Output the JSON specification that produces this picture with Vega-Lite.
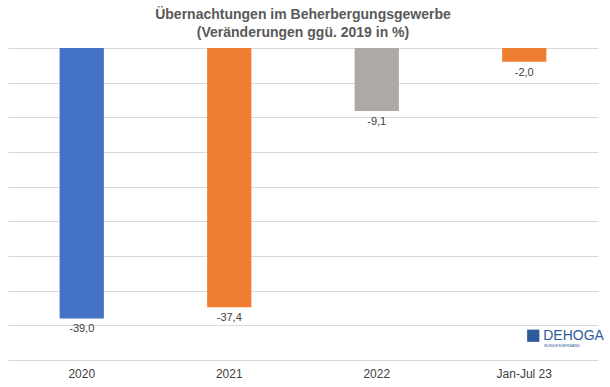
{
  "$schema": "https://vega.github.io/schema/vega-lite/v6.json",
  "width": 590,
  "height": 312,
  "autosize": {"type": "none"},
  "padding": {"left": 8, "top": 48, "right": 12, "bottom": 27},
  "background": "white",
  "config": {
    "font": "Liberation Sans",
    "view": {"stroke": null},
    "locale": {"number": {"decimal": ",", "thousands": ".", "grouping": [3], "currency": ["", " €"], "minus": "-"}}
  },
  "title": {
    "text": ["Übernachtungen im Beherbergungsgewerbe", "(Veränderungen ggü. 2019 in %)"],
    "fontSize": 14,
    "fontWeight": "bold",
    "color": "#595959",
    "font": "Liberation Sans",
    "lineHeight": 18,
    "anchor": "middle",
    "offset": 8
  },
  "data": {
    "values": [
      {"period": "2020", "change": -39.0},
      {"period": "2021", "change": -37.4},
      {"period": "2022", "change": -9.1},
      {"period": "Jan-Jul 23", "change": -2.0}
    ]
  },
  "encoding": {
    "x": {
      "field": "period",
      "type": "nominal",
      "sort": null,
      "scale": {"paddingInner": 0.7, "paddingOuter": 0.35},
      "axis": {"title": null, "labelAngle": 0, "domain": false, "ticks": false, "labelFontSize": 12, "labelColor": "#404040", "labelPadding": 8, "labelFont": "Liberation Sans"}
    },
    "y": {
      "field": "change",
      "type": "quantitative",
      "scale": {"domain": [-45, 0], "nice": false},
      "axis": {"title": null, "labels": false, "ticks": false, "domain": false, "values": [-45, -40, -35, -30, -25, -20, -15, -10, -5, 0], "gridColor": "#d9d9d9", "gridWidth": 1}
    }
  },
  "layer": [
    {
      "mark": {"type": "bar"},
      "encoding": {
        "color": {
          "field": "period",
          "type": "nominal",
          "scale": {"domain": ["2020", "2021", "2022", "Jan-Jul 23"], "range": ["#4472C4", "#ED7D31", "#ADA9A7", "#ED7D31"]},
          "legend": null
        }
      }
    },
    {
      "mark": {"type": "text", "baseline": "top", "dy": 5, "fontSize": 11, "color": "#404040", "font": "Liberation Sans"},
      "encoding": {
        "text": {"field": "change", "type": "quantitative", "format": ".1f"}
      }
    },
    {
      "data": {"values": [{"period": "Jan-Jul 23", "change": -41.5, "logo": "DEHOGA", "sub": "BUNDESVERBAND"}]},
      "layer": [
        {
          "mark": {"type": "text", "align": "left", "baseline": "middle", "dx": 19, "fontSize": 14, "color": "#2E5C9A", "font": "Liberation Sans"},
          "encoding": {"text": {"field": "logo"}}
        },
        {
          "mark": {"type": "text", "align": "left", "baseline": "middle", "dx": 20, "dy": 10, "fontSize": 4, "color": "#2E5C9A", "font": "Liberation Sans"},
          "encoding": {"text": {"field": "sub"}}
        },
        {
          "mark": {"type": "square", "filled": true, "size": 150, "color": "#2E5C9A", "xOffset": 9, "opacity": 1},
          "encoding": {}
        }
      ]
    }
  ]
}
